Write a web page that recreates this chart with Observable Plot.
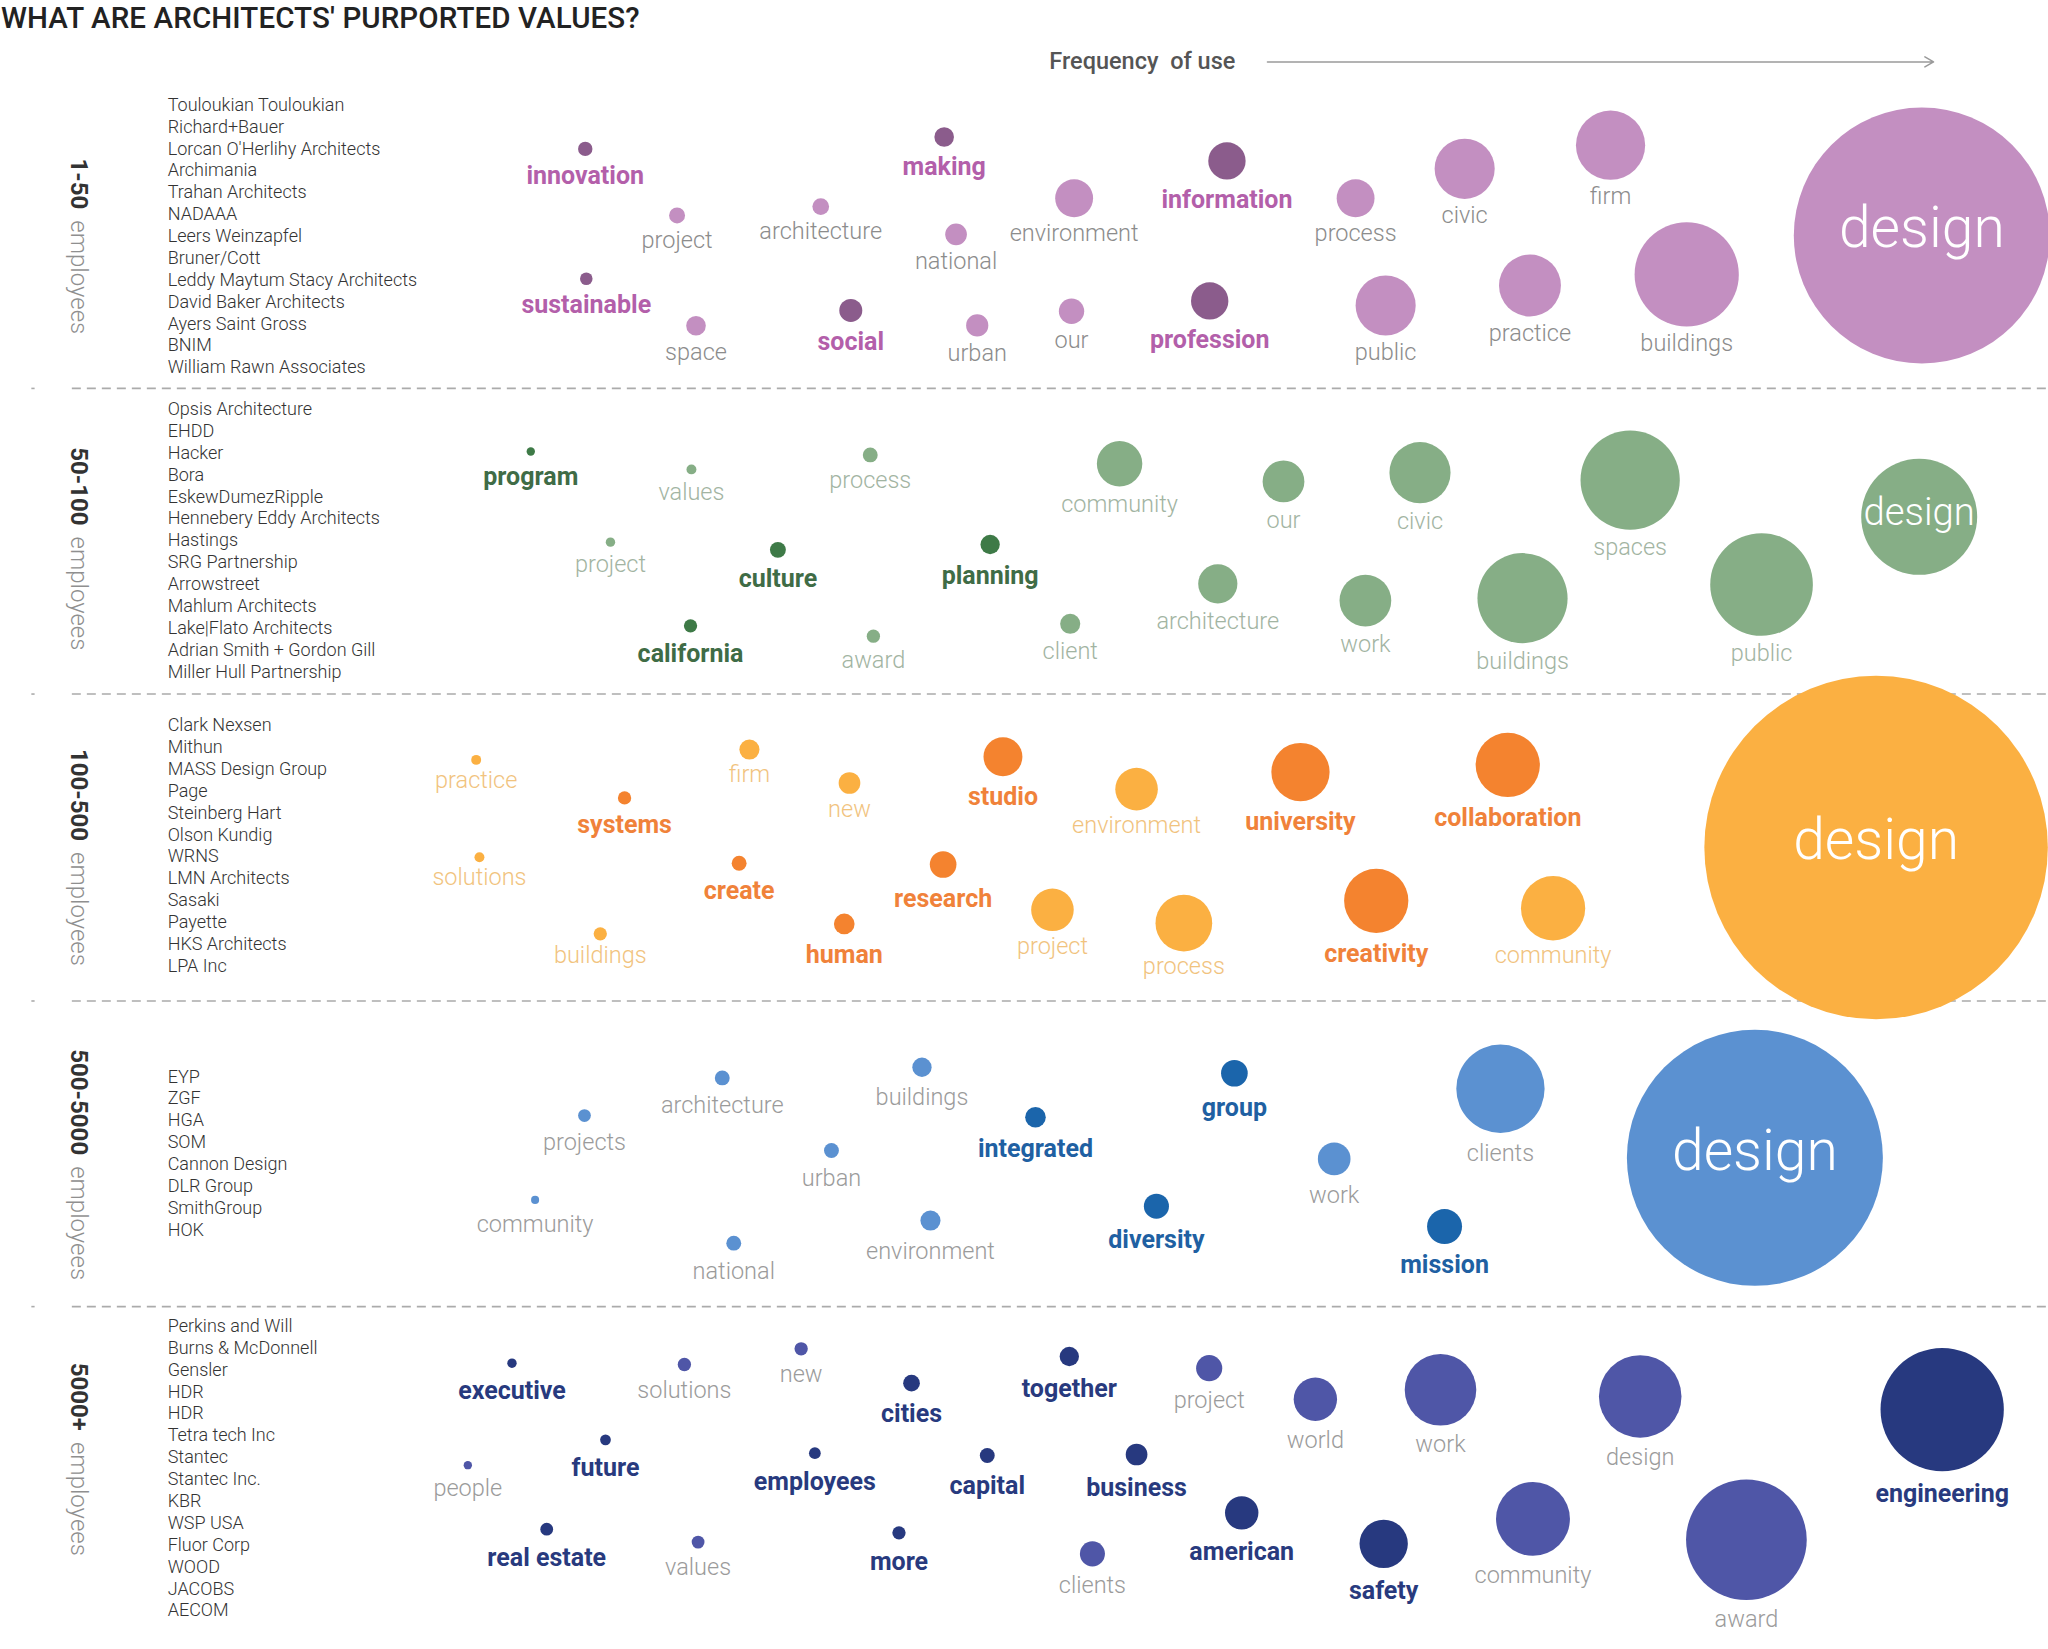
<!DOCTYPE html>
<html><head><meta charset="utf-8">
<script src="https://cdn.jsdelivr.net/npm/d3@7"></script>
<script src="https://cdn.jsdelivr.net/npm/@observablehq/plot@0.6"></script>
<style>
body{margin:0;background:#fff;}
#title{height:40px;box-sizing:border-box;padding-top:1px;font:500 29.5px Roboto,sans-serif;color:#222;line-height:34px;white-space:nowrap;padding-left:1px;letter-spacing:0.1px;}
</style></head><body>
<div id="title">WHAT ARE ARCHITECTS' PURPORTED VALUES?</div>
<div id="chart"></div>
<script>
// ---------- data ----------
const bandRanges = ["1-50", "50-100", "100-500", "500-5000", "5000+"];
const bandFirms = [
  ["Touloukian Touloukian","Richard+Bauer","Lorcan O'Herlihy Architects","Archimania","Trahan Architects","NADAAA","Leers Weinzapfel","Bruner/Cott","Leddy Maytum Stacy Architects","David Baker Architects","Ayers Saint Gross","BNIM","William Rawn Associates"],
  ["Opsis Architecture","EHDD","Hacker","Bora","EskewDumezRipple","Hennebery Eddy Architects","Hastings","SRG Partnership","Arrowstreet","Mahlum Architects","Lake|Flato Architects","Adrian Smith + Gordon Gill","Miller Hull Partnership"],
  ["Clark Nexsen","Mithun","MASS Design Group","Page","Steinberg Hart","Olson Kundig","WRNS","LMN Architects","Sasaki","Payette","HKS Architects","LPA Inc"],
  ["EYP","ZGF","HGA","SOM","Cannon Design","DLR Group","SmithGroup","HOK"],
  ["Perkins and Will","Burns & McDonnell","Gensler","HDR","HDR","Tetra tech Inc","Stantec","Stantec Inc.","KBR","WSP USA","Fluor Corp","WOOD","JACOBS","AECOM"]
];

// band 1: 1-50 employees
const b1Words = ["innovation","making","project","architecture","national","environment","information","process","civic","firm","design","sustainable","space","social","urban","our","profession","public","practice","buildings"];
const b1X = [447.7,722.5,518,628,731.6,822,939,1037.5,1121,1232.7,1471,448.5,532.5,651,747.8,820,925.8,1060.5,1171,1291];
const b1Y = [113.6,104.5,164.6,157.8,179,151.4,122.8,151.4,128.9,110.8,179.9,213,249,237.3,248.8,237.9,230,233.5,218.2,209.7];
const b1R = [5.5,7.5,6.1,6.4,8.3,14.5,14.3,14.5,23,26.5,98,4.8,7.5,8.8,8.5,9.7,14.3,23,23.7,39.9];
const b1Distinct = [1,1,0,0,0,0,1,0,0,0,0,1,0,1,0,0,1,0,0,0];

// band 2: 50-100 employees
const b2Words = ["program","values","process","community","our","civic","spaces","design","project","culture","planning","architecture","work","buildings","public","california","award","client"];
const b2X = [406,529,665.9,856.8,982.3,1086.8,1247.7,1469,467,595.2,757.7,932,1045,1165.3,1348.3,528.3,668.3,819];
const b2Y = [345.3,359,347.9,354.7,368.2,361.5,367.2,395.3,414.7,420.6,416.5,446.6,459.4,457.6,447.1,478.8,486.7,477.2];
const b2R = [3.2,3.8,5.7,17.4,16,23.4,38,44.4,3.6,6.1,7.4,15,19.8,34.5,39.3,5.1,5.1,7.7];
const b2Distinct = [1,0,0,0,0,0,0,0,0,1,1,0,0,0,0,1,0,0];

// band 3: 100-500 employees
const b3Words = ["practice","firm","new","studio","environment","university","collaboration","design","systems","solutions","create","research","project","process","creativity","community","buildings","human"];
const b3X = [364.2,573.4,650,767.5,869.8,995.3,1154,1436,477.8,366.7,565.5,721.7,805.4,906,1053.3,1188.7,459.2,646];
const b3Y = [581.4,573.5,599.1,579,603.8,590.7,585.3,648.5,610.5,655.9,660.5,661.5,696.2,706.4,689.3,695,714.6,707];
const b3R = [3.8,7.7,8.3,14.9,16.3,22.3,24.6,131.5,5.1,3.8,5.7,10.2,16.3,21.7,24.6,24.6,5.1,7.9];
const b3Distinct = [0,0,0,1,0,1,1,0,1,0,1,1,0,0,1,0,0,1];

// band 4: 500-5000 employees
const b4Words = ["projects","architecture","buildings","integrated","group","clients","design","urban","work","community","national","environment","diversity","mission"];
const b4X = [447.1,552.6,705.5,792.4,944.7,1148.4,1343.2,636.2,1021.1,409.3,561.4,712,885,1105.6];
const b4Y = [853.7,824.9,816.7,855,821.3,833.2,886.1,880.5,886.9,918.3,951.4,934.1,923.1,938.7];
const b4R = [4.9,5.7,7.4,7.9,10.2,33.8,98,5.7,12.5,3.1,5.7,7.7,9.6,13.4];
const b4Distinct = [0,0,0,1,1,0,0,0,0,0,0,0,1,1];

// band 5: 5000+ employees
const b5Words = ["executive","solutions","new","cities","together","project","world","work","design","engineering","people","future","employees","capital","business","american","safety","community","award","real estate","values","more","clients"];
const b5X = [391.6,523.6,613,697.5,818.3,925.4,1006.7,1102.5,1255.4,1486.6,357.8,463.2,623.5,755.5,869.8,950.3,1059,1173.3,1336.7,418.2,534.1,687.9,836];
const b5Y = [1043.3,1044.3,1032.3,1058.6,1038.2,1047.1,1070.9,1063.7,1068.8,1078.8,1121.4,1102,1112.2,1114,1113.2,1157.9,1181.6,1162.5,1178.5,1170.4,1180.3,1173.2,1189.3];
const b5R = [3.6,5.1,5.1,6.4,7.4,10,16.6,27.4,31.6,47.2,3.2,4.1,4.5,5.7,8.3,12.8,18.5,28.3,46.2,4.9,4.9,5.1,9.6];
const b5Distinct = [1,0,0,1,1,0,0,0,0,1,0,1,1,1,1,1,1,0,0,1,0,1,0];

// ---------- layout & style ----------
const S = 2048 / 1568;          // px per layout unit
const TITLE_H = 40;
const W = 2048, H = 1649 - TITLE_H;
const bandLight = ["#c38fc1","#86ae86","#fbb042","#5b91d1","#4f56a7"];
const bandDark  = ["#8b5c8c","#3e7a47","#f4832f","#1b65ab","#27397f"];
const bandBoldText = ["#b35faa","#3f6c46","#f0823a","#2060a2","#283a7e"];
const bandLightText = ["#8c8c8c","#a2b4a2","#f1c37e","#9b9b9b","#9b9b9b"];
const labelGap = [[18.5,21.5],[19.5,22.5],[17.5,22],[21.5,22.5],[20.5,23.5]];
const firmTop = [80, 313, 555, 824, 1015];
const firmStep = 16.75;
const bandLabelTop = [121, 342, 573, 803, 1043];
const separators = [297, 531, 766, 1000];

const bands = [
  [b1Words,b1X,b1Y,b1R,b1Distinct],
  [b2Words,b2X,b2Y,b2R,b2Distinct],
  [b3Words,b3X,b3Y,b3R,b3Distinct],
  [b4Words,b4X,b4Y,b4R,b4Distinct],
  [b5Words,b5X,b5Y,b5R,b5Distinct]
];
const rows = [];
bands.forEach(([w,x,y,r,d], b) => w.forEach((word, i) => rows.push({
  band: b, word, x: x[i], y: y[i], r: r[i], dark: !!d[i],
  fill: d[i] ? bandDark[b] : bandLight[b],
  inside: word === "design" && r[i] > 40
})));
rows.forEach(d => {
  d.ly = d.y + d.r + labelGap[d.band][d.dark ? 1 : 0];
  d.textFill = d.dark ? bandBoldText[d.band] : bandLightText[d.band];
  d.fs = Math.min(57, 0.66 * d.r * S);
  d.iy = d.y + 0.21 * d.fs / S;
});

const firms = [];
bandFirms.forEach((list, b) => list.forEach((name, i) => firms.push({name, x: 128, y: firmTop[b] + i * firmStep})));

const ctx = document.createElement("canvas").getContext("2d");
ctx.font = "700 24px Roboto";
const bandLab = bandRanges.map((t, b) => ({
  range: t, emp: "employees", x: 60,
  y1: bandLabelTop[b],
  y2: bandLabelTop[b] + (ctx.measureText(t).width + 11) / S
}));

const chart = Plot.plot({
  width: W, height: H, margin: 0,
  style: {fontFamily: "Roboto, sans-serif", background: "#fff"},
  x: {domain: [0, W / S], range: [0, W], axis: null},
  y: {domain: [TITLE_H / S, 1649 / S], range: [0, H], axis: null},
  r: {type: "linear", domain: [0, 150], range: [0, 150 * S]},
  color: {type: "identity"},
  marks: [
    Plot.ruleY(separators, {y: d => d, x1: 55, x2: 1568, stroke: "#ababab", strokeWidth: 1.6, strokeDasharray: "9,6"}),
    Plot.ruleY(separators, {y: d => d, x1: 24, x2: 26.5, stroke: "#ababab", strokeWidth: 1.6}),
    Plot.dot(rows, {x: "x", y: "y", r: "r", fill: "fill", stroke: null}),
    Plot.text(rows.filter(d => !d.dark && !d.inside), {x: "x", y: "ly", text: "word", fill: "textFill", fontSize: 23.5, fontWeight: 300, lineAnchor: "bottom"}),
    Plot.text(rows.filter(d => d.dark), {x: "x", y: "ly", text: "word", fill: "textFill", fontSize: 25, fontWeight: 700, lineAnchor: "bottom"}),
    Plot.text(rows.filter(d => d.inside), {x: "x", y: "iy", text: "word", fill: "#fff", fontSize: "fs", fontWeight: 300, lineAnchor: "bottom"}),
    Plot.text(firms, {x: "x", y: "y", text: "name", textAnchor: "start", lineAnchor: "middle", fontSize: 18, fontWeight: 300, fill: "#333"}),
    Plot.text(bandLab, {x: "x", y: "y1", text: "range", rotate: 90, textAnchor: "start", lineAnchor: "middle", fontSize: 24, fontWeight: 700, fill: "#333"}),
    Plot.text(bandLab, {x: "x", y: "y2", text: "emp", rotate: 90, textAnchor: "start", lineAnchor: "middle", fontSize: 24, fontWeight: 300, fill: "#8f8f8f"}),
    Plot.text(["Frequency  of use"], {x: 803, y: 47, text: d => d, textAnchor: "start", lineAnchor: "middle", fontSize: 23.5, fontWeight: 500, fill: "#555"}),
    Plot.arrow([{a: 970, b: 1480, y: 47}], {x1: "a", x2: "b", y1: "y", y2: "y", stroke: "#9a9a9a", strokeWidth: 1.5, headLength: 10, bend: 0})
  ]
});
chart.querySelectorAll("text").forEach(t => t.setAttribute("xml:space", "preserve"));
document.getElementById("chart").appendChild(chart);
</script></body></html>
